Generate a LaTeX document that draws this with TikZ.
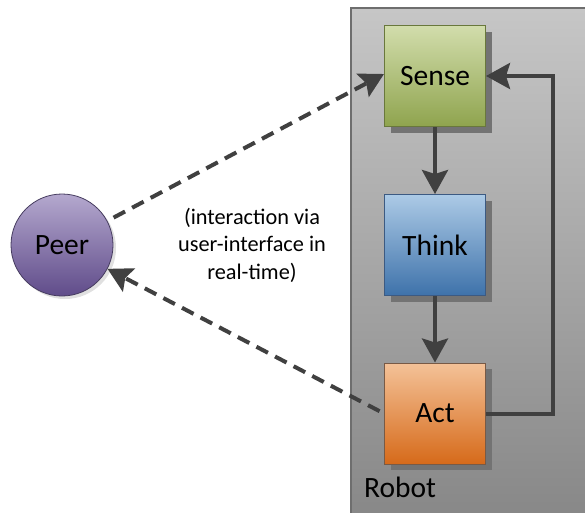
\documentclass[tikz,border=0pt]{standalone}
\usepackage{fontspec}
\setmainfont{Carlito}
\usetikzlibrary{arrows.meta,shadows}
\definecolor{sensetop}{RGB}{210,221,172}
\definecolor{sensebot}{RGB}{143,164,78}
\definecolor{senseline}{RGB}{105,120,60}
\definecolor{thinktop}{RGB}{172,202,230}
\definecolor{thinkbot}{RGB}{62,114,170}
\definecolor{thinkline}{RGB}{60,90,130}
\definecolor{acttop}{RGB}{244,194,152}
\definecolor{actbot}{RGB}{214,106,26}
\definecolor{actline}{RGB}{120,90,70}
\definecolor{peertop}{RGB}{180,168,206}
\definecolor{peerbot}{RGB}{96,76,138}
\definecolor{peerline}{RGB}{70,60,95}
\definecolor{robottop}{RGB}{198,198,198}
\definecolor{robotbot}{RGB}{134,134,134}
\definecolor{robotline}{RGB}{110,110,110}
\definecolor{arrowc}{RGB}{64,64,64}
\tikzset{
  block/.style={rectangle, minimum size=101pt, inner sep=0pt, line width=1pt,
    font=\fontsize{29.5}{34}\selectfont,
    general shadow={fill=black!55, shadow xshift=6pt, shadow yshift=-6pt}},
  flow/.style={draw=arrowc, line width=4pt,
    -{Stealth[length=24pt,width=26pt,inset=4pt]}},
  dflow/.style={flow, dash pattern=on 13pt off 8pt},
}
\begin{document}
\begin{tikzpicture}[x=1pt,y=-1pt]
\useasboundingbox (0,0) rectangle (585,512);
\begin{scope}
\clip (0,0) rectangle (585,512);
\draw[draw=robotline, line width=1.5pt, top color=robottop, bottom color=robotbot]
  (351,8) rectangle (600,530);
\end{scope}
\node[inner sep=0pt, anchor=base west, font=\fontsize{29.5}{34}\selectfont] (robot) at (364,497) {Robot};

\node[block, draw=senseline, top color=sensetop, bottom color=sensebot] (sense) at (435,76) {Sense};
\node[block, draw=thinkline, top color=thinktop, bottom color=thinkbot] (think) at (435,245) {Think};
\node[block, draw=actline, top color=acttop, bottom color=actbot] (act) at (435,413.5) {Act};

\node[circle, minimum size=102pt, inner sep=0pt, draw=peerline, line width=0.8pt,
  top color=peertop, bottom color=peerbot, font=\fontsize{29.5}{34}\selectfont,
  general shadow={fill=black!12, shadow xshift=3pt, shadow yshift=-3pt}] (peer) at (62,245) {Peer};

\node[align=center, font=\fontsize{22.3}{27.5}\selectfont] (note) at (252,245)
  {(interaction via\\user-interface in\\real-time)};

\coordinate (fb) at (553,76);
\draw[flow] (sense) -- (think);
\draw[flow] (think) -- (act);
\draw[flow] (act.east) -| (fb) -- (sense.east);
\draw[dflow, shorten <=7pt] (peer) -- ([yshift=2pt]sense.west);
\draw[dflow, shorten <=5pt] (act.west) -- (peer);
\end{tikzpicture}
\end{document}
